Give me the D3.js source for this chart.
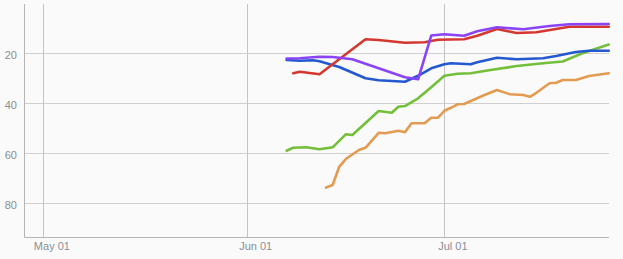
<!DOCTYPE html>
<html><head><meta charset="utf-8">
<script src="https://cdn.jsdelivr.net/npm/d3@7"></script>
<style>
html,body{margin:0;padding:0;background:#fafafa;}
svg{display:block;}
text{font-family:"Liberation Sans",Arial,Helvetica,sans-serif;font-size:11px;}
</style></head>
<body><svg id="c" width="623" height="259"></svg>
<script>
const yTicks = [20, 40, 60, 80];
const xTickLabels = ["May 01", "Jun 01", "Jul 01"];
const xTickDates = ["2012-05-01", "2012-06-01", "2012-07-01"];

const blue = [["06-07",22.7],["06-09",23.0],["06-11",22.8],["06-12",23.2],["06-15",25.5],["06-19",30.0],["06-21",30.8],["06-25",31.4],["06-27",29.0],["06-29",26.0],["07-01",24.4],["07-02",24.0],["07-05",24.4],["07-06",23.6],["07-09",21.8],["07-12",22.4],["07-16",22.0],["07-18",21.1],["07-21",19.5],["07-23",19.0],["07-26",19.0]];
const red = [["06-08",28.0],["06-09",27.4],["06-12",28.4],["06-19",14.4],["06-21",14.7],["06-25",15.8],["06-28",15.6],["06-30",14.6],["07-04",14.4],["07-06",13.0],["07-09",10.3],["07-12",11.9],["07-15",11.6],["07-20",9.4],["07-26",9.4]];
const purple = [["06-07",22.1],["06-09",22.0],["06-12",21.4],["06-14",21.5],["06-17",22.4],["06-21",26.0],["06-25",29.6],["06-27",30.4],["06-29",12.9],["07-01",12.4],["07-04",13.0],["07-06",11.2],["07-09",9.6],["07-13",10.4],["07-17",9.1],["07-20",8.4],["07-26",8.3]];
const green = [["06-07",59.0],["06-08",57.8],["06-10",57.6],["06-12",58.4],["06-14",57.6],["06-16",52.4],["06-17",52.7],["06-21",43.1],["06-23",43.8],["06-24",41.4],["06-25",41.1],["06-27",38.0],["06-29",33.6],["07-01",29.0],["07-03",28.2],["07-05",28.0],["07-08",26.7],["07-12",25.1],["07-16",24.0],["07-19",23.3],["07-22",20.0],["07-26",16.5]];
const orange = [["06-13",73.7],["06-14",72.7],["06-15",65.4],["06-16",62.3],["06-18",58.7],["06-19",57.8],["06-21",51.8],["06-22",52.0],["06-24",51.0],["06-25",51.6],["06-26",48.0],["06-28",48.0],["06-29",45.8],["06-30",45.8],["07-01",43.0],["07-02",41.8],["07-03",40.4],["07-04",40.3],["07-07",36.8],["07-09",34.7],["07-11",36.4],["07-13",36.7],["07-14",37.4],["07-15",35.8],["07-17",32.0],["07-18",31.8],["07-19",30.7],["07-21",30.7],["07-23",29.1],["07-26",28.0]];

const seriesList = [
  {data: orange, color: "#e39b52"},
  {data: green, color: "#73bf3a"},
  {data: blue, color: "#2458cf"},
  {data: red, color: "#d3372f"},
  {data: purple, color: "#8b44f5"}
];

const parse = d3.timeParse("%Y-%m-%d");
const svg = d3.select("#c");
const L = 24.5, R = 609, T = 4, B = 237.3;

const x = d3.scaleTime()
  .domain([new Date(2012,3,28,3), new Date(2012,6,26,1)])
  .range([L, R]);
const y = d3.scaleLinear().domain([0, 93.6]).range([3.3, B]);

const g = svg.append("g");
// horizontal grid
g.selectAll(".hg").data(yTicks).join("line")
  .attr("x1", L).attr("x2", R)
  .attr("y1", d => Math.round(y(d)) + 0.5).attr("y2", d => Math.round(y(d)) + 0.5)
  .attr("stroke", "#cfcfcf").attr("stroke-width", 1);
// vertical grid
const xd = xTickDates.map(parse);
g.selectAll(".vg").data(xd).join("line")
  .attr("x1", d => Math.round(x(d)) + 0.5).attr("x2", d => Math.round(x(d)) + 0.5)
  .attr("y1", T).attr("y2", B)
  .attr("stroke", "#c4c4c4").attr("stroke-width", 1);
// axis lines
g.append("line").attr("x1", L).attr("x2", L).attr("y1", T).attr("y2", B)
  .attr("stroke", "#b5b5b5");
g.append("line").attr("x1", L).attr("x2", R).attr("y1", Math.round(B)+0.5).attr("y2", Math.round(B)+0.5)
  .attr("stroke", "#b5b5b5");

// labels
g.selectAll(".yl").data(yTicks).join("text")
  .attr("x", 17).attr("y", d => y(d) + 6)
  .attr("text-anchor", "end").attr("fill", "#8d8d8d").text(d => d);
g.selectAll(".xl").data(xd).join("text")
  .attr("x", d => x(d) + 8.5).attr("y", 250)
  .attr("text-anchor", "middle").attr("fill", "#8a8e99")
  .text((d, i) => xTickLabels[i]);

const line = d3.line()
  .x(d => x(parse("2012-" + d[0])))
  .y(d => y(d[1]));

seriesList.forEach(s => {
  svg.append("path").attr("d", line(s.data))
    .attr("fill", "none").attr("stroke", s.color)
    .attr("stroke-width", 2.6).attr("stroke-linejoin", "round").attr("stroke-linecap", "round");
});
</script></body></html>
